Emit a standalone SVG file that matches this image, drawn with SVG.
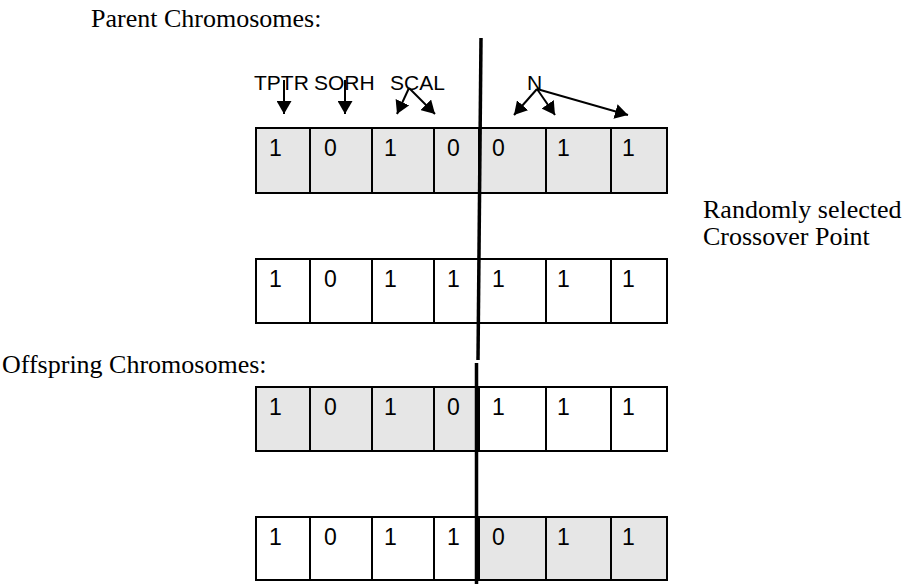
<svg xmlns="http://www.w3.org/2000/svg" width="910" height="584" viewBox="0 0 910 584">
  <style>
    .cell { stroke: #000; stroke-width: 2; }
    .g { fill: #e6e6e6; }
    .w { fill: #fff; }
    .d { font-family: "Liberation Sans", Arial, sans-serif; font-size: 23px; fill: #000; }
    .lbl { font-family: "Liberation Sans", Arial, sans-serif; font-size: 21px; fill: #000; }
    .tnr { font-family: "Liberation Serif", "Times New Roman", serif; font-size: 26px; fill: #000; }
    .arr { stroke: #000; stroke-width: 2; fill: none; marker-end: url(#ah); }
    .cross { stroke: #000; stroke-width: 3.5; }
  </style>
  <defs>
    <marker id="ah" viewBox="0 0 13 15" refX="13" refY="7.5" markerWidth="13" markerHeight="15" markerUnits="userSpaceOnUse" orient="auto">
      <path d="M0,0 L13,7.5 L0,15 z" fill="#000"/>
    </marker>
  </defs>
  <rect width="910" height="584" fill="#fff"/>

  <text class="tnr" x="91" y="27">Parent Chromosomes:</text>
  <text class="tnr" x="2" y="373">Offspring Chromosomes:</text>
  <text class="tnr" x="703" y="218">Randomly selected</text>
  <text class="tnr" x="703" y="245">Crossover Point</text>

  <g id="labels">
    <text class="lbl" x="254" y="90">TPTR</text>
    <text class="lbl" x="314" y="90">SORH</text>
    <text class="lbl" x="390" y="90">SCAL</text>
    <text class="lbl" x="527" y="90">N</text>
  </g>

  <g id="parent1">
    <rect class="cell g" x="256" y="128" width="54" height="65"/>
    <rect class="cell g" x="310" y="128" width="62" height="65"/>
    <rect class="cell g" x="372" y="128" width="62" height="65"/>
    <rect class="cell g" x="434" y="128" width="45" height="65"/>
    <rect class="cell g" x="479" y="128" width="67" height="65"/>
    <rect class="cell g" x="546" y="128" width="65" height="65"/>
    <rect class="cell g" x="611" y="128" width="56" height="65"/>
    <text class="d" x="269" y="156">1</text>
    <text class="d" x="324" y="156">0</text>
    <text class="d" x="384" y="156">1</text>
    <text class="d" x="447" y="156">0</text>
    <text class="d" x="492" y="156">0</text>
    <text class="d" x="557" y="156">1</text>
    <text class="d" x="622" y="156">1</text>
  </g>

  <g id="parent2">
    <rect class="cell w" x="256" y="259" width="54" height="64"/>
    <rect class="cell w" x="310" y="259" width="62" height="64"/>
    <rect class="cell w" x="372" y="259" width="62" height="64"/>
    <rect class="cell w" x="434" y="259" width="45" height="64"/>
    <rect class="cell w" x="479" y="259" width="67" height="64"/>
    <rect class="cell w" x="546" y="259" width="65" height="64"/>
    <rect class="cell w" x="611" y="259" width="56" height="64"/>
    <text class="d" x="269" y="287">1</text>
    <text class="d" x="324" y="287">0</text>
    <text class="d" x="384" y="287">1</text>
    <text class="d" x="447" y="287">1</text>
    <text class="d" x="492" y="287">1</text>
    <text class="d" x="557" y="287">1</text>
    <text class="d" x="622" y="287">1</text>
  </g>

  <g id="offspring1">
    <rect class="cell g" x="256" y="387" width="54" height="64"/>
    <rect class="cell g" x="310" y="387" width="62" height="64"/>
    <rect class="cell g" x="372" y="387" width="62" height="64"/>
    <rect class="cell g" x="434" y="387" width="45" height="64"/>
    <rect class="cell w" x="479" y="387" width="67" height="64"/>
    <rect class="cell w" x="546" y="387" width="65" height="64"/>
    <rect class="cell w" x="611" y="387" width="56" height="64"/>
    <text class="d" x="269" y="415">1</text>
    <text class="d" x="324" y="415">0</text>
    <text class="d" x="384" y="415">1</text>
    <text class="d" x="447" y="415">0</text>
    <text class="d" x="492" y="415">1</text>
    <text class="d" x="557" y="415">1</text>
    <text class="d" x="622" y="415">1</text>
  </g>

  <g id="offspring2">
    <rect class="cell w" x="256" y="517" width="54" height="63"/>
    <rect class="cell w" x="310" y="517" width="62" height="63"/>
    <rect class="cell w" x="372" y="517" width="62" height="63"/>
    <rect class="cell w" x="434" y="517" width="45" height="63"/>
    <rect class="cell g" x="479" y="517" width="67" height="63"/>
    <rect class="cell g" x="546" y="517" width="65" height="63"/>
    <rect class="cell g" x="611" y="517" width="56" height="63"/>
    <text class="d" x="269" y="545">1</text>
    <text class="d" x="324" y="545">0</text>
    <text class="d" x="384" y="545">1</text>
    <text class="d" x="447" y="545">1</text>
    <text class="d" x="492" y="545">0</text>
    <text class="d" x="557" y="545">1</text>
    <text class="d" x="622" y="545">1</text>
  </g>

  <g id="connectors">
    <line class="arr" x1="284" y1="80" x2="284" y2="114"/>
    <line class="arr" x1="345" y1="80" x2="345" y2="114"/>
    <line class="arr" x1="409" y1="88" x2="397" y2="114"/>
    <line class="arr" x1="409" y1="88" x2="435" y2="114"/>
    <line class="arr" x1="537" y1="89" x2="514" y2="115"/>
    <line class="arr" x1="537" y1="89" x2="555" y2="115"/>
    <line class="arr" x1="537" y1="89" x2="628" y2="115"/>
    <line class="cross" x1="481" y1="38" x2="478" y2="360"/>
    <line class="cross" x1="476.5" y1="363" x2="476.5" y2="584"/>
  </g>
</svg>
